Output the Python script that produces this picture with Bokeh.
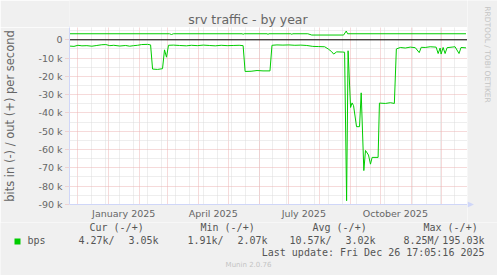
import math
import pandas as pd
from bokeh.plotting import figure
from bokeh.layouts import column, row
from bokeh.models import Range1d, FixedTicker, Span, Label, BoxAnnotation, PolyAnnotation, ColumnDataSource
from bokeh.embed import file_html
from bokeh.resources import INLINE

# ---------------- data ----------------
in_dates = [
    "2024-11-22", "2024-11-27", "2024-12-01", "2024-12-05", "2024-12-10", "2024-12-15",
    "2024-12-20", "2024-12-25", "2024-12-29", "2025-01-02", "2025-01-06", "2025-01-12",
    "2025-01-18", "2025-01-22", "2025-01-26", "2025-01-30", "2025-02-03", "2025-02-09",
    "2025-02-12", "2025-02-14", "2025-02-19", "2025-02-24", "2025-02-26", "2025-02-28",
    "2025-03-02", "2025-03-07", "2025-03-13", "2025-03-20", "2025-03-25", "2025-03-31",
    "2025-04-06", "2025-04-12", "2025-04-18", "2025-04-24", "2025-04-30", "2025-05-06",
    "2025-05-12", "2025-05-16", "2025-05-18", "2025-05-24", "2025-05-30", "2025-06-05",
    "2025-06-12", "2025-06-14", "2025-06-19", "2025-06-25", "2025-07-01", "2025-07-07",
    "2025-07-13", "2025-07-19", "2025-07-25", "2025-07-31", "2025-08-06", "2025-08-10",
    "2025-08-13", "2025-08-15", "2025-08-18", "2025-08-24", "2025-08-26", "2025-08-28",
    "2025-08-29 12:00", "2025-09-01", "2025-09-02 12:00", "2025-09-04", "2025-09-07",
    "2025-09-10", "2025-09-11 16:00", "2025-09-14 08:00", "2025-09-16", "2025-09-19",
    "2025-09-21", "2025-09-22 16:00", "2025-09-28 16:00", "2025-09-30", "2025-10-06",
    "2025-10-11", "2025-10-15", "2025-10-17", "2025-10-21", "2025-10-26", "2025-10-31",
    "2025-11-05", "2025-11-09", "2025-11-11", "2025-11-15", "2025-11-20", "2025-11-26",
    "2025-11-28", "2025-11-30", "2025-12-01", "2025-12-03", "2025-12-05", "2025-12-07",
    "2025-12-12", "2025-12-15", "2025-12-19", "2025-12-21", "2025-12-26",
]
in_kbps = [
    -3.4, -3.6, -3.0, -3.3, -3.2, -3.5,
    -3.1, -2.7, -2.6, -3.2, -3.0, -3.4,
    -3.1, -3.5, -3.2, -3.0, -2.6, -2.5,
    -2.8, -16.0, -16.2, -15.8, -5.5, -9.5,
    -3.0, -2.9, -3.1, -3.3, -3.0, -3.2,
    -2.9, -3.1, -3.3, -3.0, -3.2, -3.1,
    -3.0, -3.2, -17.3, -17.2, -16.8, -17.0,
    -17.0, -3.0, -2.8, -2.9, -2.8, -3.0,
    -2.9, -3.1, -3.6, -3.7, -3.8, -5.2,
    -6.5, -7.8, -6.6, -6.7, -6.8, -88.0,
    -6.0, -37.0, -34.5, -36.0, -47.5,
    -47.5, -29.0, -71.5, -60.5, -63.0,
    -68.0, -64.3, -64.3, -34.6, -34.8,
    -34.4, -34.8, -5.0, -4.2, -4.5, -4.0,
    -4.3, -7.0, -4.1, -4.2, -3.8, -4.0,
    -7.5, -4.5, -7.8, -4.2, -7.5, -4.3,
    -4.0, -3.8, -7.5, -4.2, -4.4,
]
out_dates = [
    "2024-11-22", "2025-03-03", "2025-03-05", "2025-03-07", "2025-05-15", "2025-05-16",
    "2025-05-17", "2025-06-09", "2025-06-10", "2025-06-11", "2025-07-03", "2025-07-04",
    "2025-07-05", "2025-07-20", "2025-07-24", "2025-08-25", "2025-08-27 16:00",
    "2025-08-29", "2025-12-26",
]
out_kbps = [
    3.3, 3.3, 2.9, 3.3, 3.3, 3.0,
    3.3, 3.3, 3.0, 3.3, 3.3, 3.0,
    3.3, 3.3, 2.6, 2.6, 4.8,
    3.3, 3.3,
]

y_ticks = [0, -10000, -20000, -30000, -40000, -50000, -60000, -70000, -80000, -90000]
y_tick_labels = ["0", "-10 k", "-20 k", "-30 k", "-40 k", "-50 k", "-60 k", "-70 k", "-80 k", "-90 k"]
y_minor = [5000, -5000, -15000, -25000, -35000, -45000, -55000, -65000, -75000, -85000]
x_label_dates = ["2025-01-16", "2025-04-16", "2025-07-16", "2025-10-16"]
x_labels = ["January 2025", "April 2025", "July 2025", "October 2025"]

title_text = "srv traffic - by year"
y_axis_title = "bits in (-) / out (+) per second"
series_name = "bps"
legend_headers = ["Cur (-/+)", "Min (-/+)", "Avg (-/+)", "Max (-/+)"]
legend_in = ["4.27k/", "1.91k/", "10.57k/", "8.25M/"]
legend_out = ["3.05k", "2.07k", "3.02k", "195.03k"]
last_update = "Last update: Fri Dec 26 17:05:16 2025"
footer = "Munin 2.0.76"
watermark = "RRDTOOL / TOBI OETIKER"

# ---------------- styles ----------------
GREEN = "#00CC00"
FONT = "DejaVu Sans"
MONO = "DejaVu Sans Mono"
TXT = "#666666"
LTXT = "#555555"
AXIS = "#CFD6F8"
MGRID = "#EDB4B4"
GRID = "#DCDCDC"
BACK = "#F0F0F0"

end = pd.Timestamp("2025-12-26 17:05:16")
start = end - pd.Timedelta(days=400)
x_lo = start + pd.Timedelta(days=0.8)
x_hi = x_lo + pd.Timedelta(days=400)


def ms(ts):
    return pd.Timestamp(ts).value / 1e6


month_starts = [ms(t) for t in pd.date_range("2024-12-01", "2025-12-01", freq="MS")]
biweekly = [ms(t) for t in pd.date_range("2024-12-15", end, freq="14D")]
label_pos = [ms(t) for t in x_label_dates]

src_in = ColumnDataSource(dict(t=pd.to_datetime(in_dates, format="mixed"), v=[k * 1000 for k in in_kbps]))
src_out = ColumnDataSource(dict(t=pd.to_datetime(out_dates, format="mixed"), v=[k * 1000 for k in out_kbps]))


def blank(w, h):
    f = figure(width=w, height=h, output_backend="svg", toolbar_location=None,
               x_axis_location=None, y_axis_location=None, min_border=0,
               x_range=Range1d(0, w), y_range=Range1d(h, 0))
    f.background_fill_color = BACK
    f.border_fill_color = BACK
    f.outline_line_color = None
    for g in f.grid:
        g.visible = False
    return f


def lab(f, x, y, text, font=FONT, size="10px", color=TXT, align="left", angle=0):
    f.add_layout(Label(x=x, y=y, x_units="canvas", y_units="canvas", text=text, text_font=font,
                       text_font_size=size, text_color=color, text_align=align,
                       text_baseline="middle", angle=angle))


# ---------------- main chart ----------------
p = figure(width=467, height=195, output_backend="svg", toolbar_location=None,
           x_axis_type="datetime", x_range=Range1d(x_lo, x_hi),
           y_range=Range1d(-90050, 6725),
           min_border_left=67, min_border_right=0, min_border_top=0, min_border_bottom=18)
p.background_fill_color = "white"
p.border_fill_color = BACK
p.outline_line_color = None

p.xgrid.ticker = FixedTicker(ticks=month_starts, minor_ticks=biweekly)
p.xgrid.grid_line_color = MGRID
p.xgrid.grid_line_dash = "1 1"
p.xgrid.minor_grid_line_color = GRID
p.xgrid.minor_grid_line_dash = "1 1"

p.yaxis.ticker = FixedTicker(ticks=y_ticks, minor_ticks=y_minor)
p.ygrid.grid_line_color = MGRID
p.ygrid.grid_line_dash = "1 1"
p.ygrid.minor_grid_line_color = GRID
p.ygrid.minor_grid_line_dash = "1 1"

p.xaxis.ticker = FixedTicker(ticks=label_pos)
p.xaxis.major_label_overrides = {k: v for k, v in zip(label_pos, x_labels)}
p.xaxis.major_tick_out = 0
p.xaxis.major_tick_in = 0
p.xaxis.minor_tick_out = 0
p.xaxis.minor_tick_in = 0
p.xaxis.major_label_standoff = 3
p.xaxis.axis_line_color = AXIS
p.xaxis.major_label_text_font = FONT
p.xaxis.major_label_text_font_size = "9.5px"
p.xaxis.major_label_text_color = TXT

p.yaxis.major_label_overrides = {k: v for k, v in zip(y_ticks, y_tick_labels)}
p.yaxis.major_tick_out = 4
p.yaxis.major_tick_in = 0
p.yaxis.major_tick_line_color = MGRID
p.yaxis.major_tick_line_dash = "1 1"
p.yaxis.minor_tick_out = 0
p.yaxis.minor_tick_in = 0
p.yaxis.major_label_standoff = 3
p.yaxis.axis_line_color = AXIS
p.yaxis.major_label_text_font = FONT
p.yaxis.major_label_text_font_size = "9.5px"
p.yaxis.major_label_text_color = TXT
p.yaxis.axis_label = y_axis_title
p.yaxis.axis_label_text_font = FONT
p.yaxis.axis_label_text_font_size = "11.5px"
p.yaxis.axis_label_text_font_style = "normal"
p.yaxis.axis_label_text_color = TXT
p.yaxis.axis_label_standoff = 18

p.add_layout(Span(location=0, dimension="width", line_color="black", line_width=1, level="underlay"))
p.line(x="t", y="v", source=src_out, line_color=GREEN, line_width=1)
p.line(x="t", y="v", source=src_in, line_color=GREEN, line_width=1)

# ---------------- title strip (with y-axis arrow) ----------------
top = blank(467, 27)
lab(top, 247.5, 19, title_text, size="12.5px", align="center")
top.add_layout(PolyAnnotation(xs=[63.5, 69.5, 66.5], ys=[27, 27, 21.2], xs_units="canvas", ys_units="canvas",
                              fill_color=AXIS, fill_alpha=1, line_color=None))

# ---------------- right strip (watermark + x-axis arrow) ----------------
side = blank(30, 222)
lab(side, 20, 54, watermark, size="7.5px", color="#C4C4C4", align="center", angle=-math.pi / 2)
side.add_layout(PolyAnnotation(xs=[0, 0, 6.5], ys=[201, 207, 204], xs_units="canvas", ys_units="canvas",
                               fill_color=AXIS, fill_alpha=1, line_color=None))

# ---------------- legend ----------------
leg = blank(497, 53)
leg.add_layout(BoxAnnotation(left=14, right=20, top=16, bottom=22, left_units="canvas", right_units="canvas",
                             top_units="canvas", bottom_units="canvas", fill_color=GREEN, fill_alpha=1,
                             line_color=None))
lab(leg, 27, 18, series_name, font=MONO, color=LTXT)
for x, t in zip([89, 200, 312, 423], legend_headers):
    lab(leg, x, 5, t, font=MONO, color=LTXT)
for x, t in zip([78, 187, 289, 403], legend_in):
    lab(leg, x, 18, t, font=MONO, color=LTXT)
for x, t in zip([158, 267, 375, 484], legend_out):
    lab(leg, x, 18, t, font=MONO, color=LTXT, align="right")
lab(leg, 484, 30, last_update, font=MONO, color=LTXT, align="right")
lab(leg, 248, 42, footer, size="7px", color="#C4C4C4", align="center")

layout = column(row(column(top, p, spacing=0), side, spacing=0), leg, spacing=0)
open("out.html", "w").write(file_html(layout, INLINE))
